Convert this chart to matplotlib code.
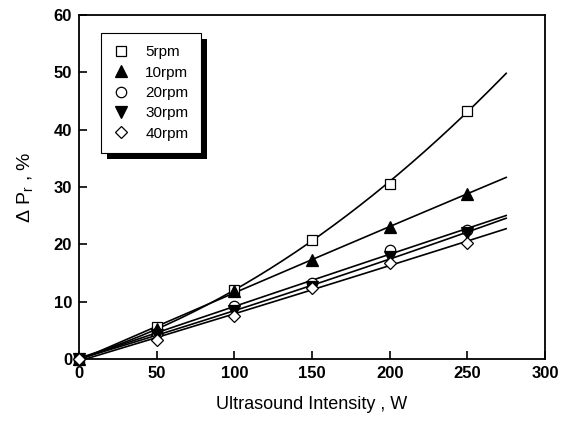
import numpy as np
import matplotlib
matplotlib.use("Agg")
import matplotlib.pyplot as plt
from matplotlib.patches import Rectangle

plt.rcParams['font.family'] = ['Liberation Sans', 'DejaVu Sans']
plt.rcParams['mathtext.fontset'] = 'custom'
plt.rcParams['mathtext.rm'] = 'Liberation Sans'

intensity = [0, 50, 100, 150, 200, 250]
rpm5 = [0, 5.5, 12.0, 20.7, 30.6, 43.3]
rpm10 = [0, 5.2, 11.9, 17.3, 23.1, 28.8]
rpm20 = [0, 4.6, 9.2, 13.2, 19.0, 22.5]
rpm30 = [0, 4.2, 8.4, 12.6, 17.8, 22.0]
rpm40 = [0, 3.3, 7.5, 12.4, 16.8, 20.2]
labels = ['5rpm', '10rpm', '20rpm', '30rpm', '40rpm']
fit_end = 275

series = [rpm5, rpm10, rpm20, rpm30, rpm40]
markers = ['s', '^', 'o', 'v', 'D']
fills = ['white', 'black', 'white', 'black', 'white']
sizes = [7, 8, 7.5, 8, 6.5]

fig = plt.figure(figsize=(5.61, 4.23), dpi=100)
ax = fig.add_axes([0.1408, 0.1513, 0.8307, 0.8132])

xf = np.linspace(0, fit_end, 200)
handles = []
for ys, m, fc, ms, lab in zip(series, markers, fills, sizes, labels):
    coef = np.polyfit(intensity, ys, 2)
    ax.plot(xf, np.polyval(coef, xf), color='black', lw=1.2, zorder=2)
    h, = ax.plot(intensity, ys, linestyle='none', marker=m, markersize=ms,
                 markerfacecolor=fc, markeredgecolor='black', markeredgewidth=0.9,
                 label=lab, zorder=3, clip_on=False)
    handles.append(h)

ax.set_xlim(0, 300)
ax.set_ylim(0, 60)
ax.set_xticks(range(0, 301, 50))
ax.set_yticks(range(0, 61, 10))
ax.tick_params(direction='in', length=6, width=1.2, labelsize=12, pad=5,
               top=False, right=False)
for lbl in ax.get_xticklabels() + ax.get_yticklabels():
    lbl.set_fontweight('bold')
for s in ax.spines.values():
    s.set_linewidth(1.3)

ax.set_xlabel('Ultrasound Intensity , W', fontsize=13, labelpad=11)
ax.set_ylabel(r'Δ P$_\mathregular{r}$ , %', fontsize=14, labelpad=13)

leg = ax.legend(handles=handles, loc='upper left', bbox_to_anchor=(0.047, 0.948),
                frameon=True, fancybox=False, shadow=False, framealpha=1,
                fontsize=11, handlelength=1.0, handletextpad=1.1, labelspacing=0.42,
                borderpad=0.8, borderaxespad=0, numpoints=1)
leg.get_frame().set_edgecolor('black')
leg.get_frame().set_facecolor('white')
leg.get_frame().set_linewidth(0.8)
leg.set_zorder(6)

fig.canvas.draw()
bb = leg.get_window_extent()
shadow = Rectangle((bb.x0 + 6, bb.y0 - 6), bb.width, bb.height, transform=None,
                   facecolor='black', edgecolor='none', zorder=5)
ax.add_artist(shadow)

fig.savefig('out.png', dpi=100)
